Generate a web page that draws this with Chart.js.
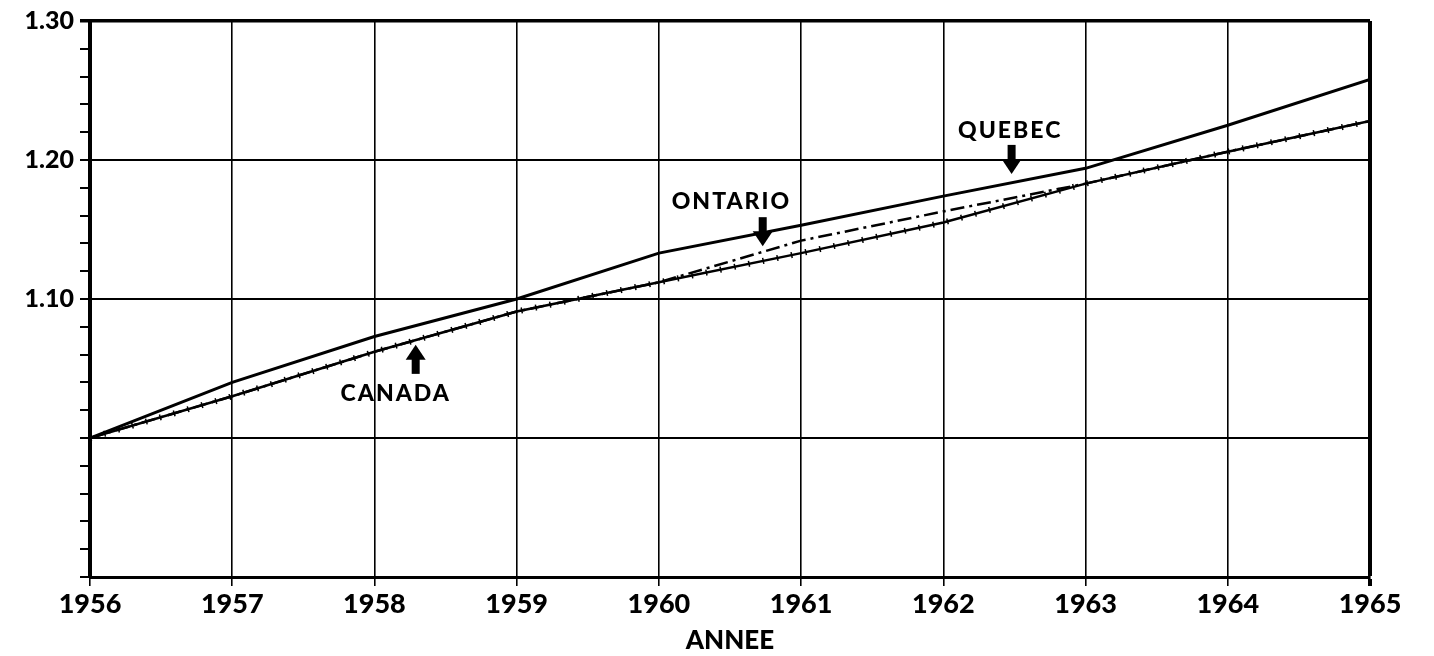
<!DOCTYPE html>
<html>
<head>
<meta charset="utf-8">
<script src="https://cdn.jsdelivr.net/npm/chart.js@4"></script>
<style>
  body { margin: 0; background: #ffffff; }
  canvas { display: block; }
</style>
</head>
<body>
<canvas id="chart" width="1434" height="656"></canvas>
<script>
// values (index, 1956 = 1.00)
var years = [1956, 1957, 1958, 1959, 1960, 1961, 1962, 1963, 1964, 1965];
var quebec = [1.000, 1.040, 1.073, 1.100, 1.133, 1.153, 1.174, 1.194, 1.225, 1.258];
var ontario = [1.000, 1.030, 1.062, 1.091, 1.112, 1.142, 1.163, 1.183, 1.206, 1.228];
var canada = [1.000, 1.030, 1.062, 1.091, 1.112, 1.133, 1.155, 1.183, 1.206, 1.228];

// callouts: text, where the text sits and where the arrow points (data units)
var callouts = [
    { text: 'QUEBEC', x: 1962.47, y: 1.221, tipX: 1962.48, tipY: 1.190, dir: 'down' },
    { text: 'ONTARIO', x: 1960.51, y: 1.170, tipX: 1960.73, tipY: 1.138, dir: 'down' },
    { text: 'CANADA', x: 1958.15, y: 1.032, tipX: 1958.29, tipY: 1.067, dir: 'up' }
];

var FONT = 'Lato, "DejaVu Sans", sans-serif';

function points(values) {
    return values.map(function (v, i) { return { x: years[i], y: v }; });
}

var calloutPlugin = {
    id: 'callouts',
    afterDatasetsDraw: function (chart) {
        var ctx = chart.ctx;
        var xs = chart.scales.x, ys = chart.scales.y;
        ctx.save();
        ctx.fillStyle = '#000';
        ctx.font = '900 23px ' + FONT;
        ctx.textAlign = 'center';
        ctx.textBaseline = 'middle';
        if ('letterSpacing' in ctx) ctx.letterSpacing = '2px';
        callouts.forEach(function (c) {
            ctx.fillText(c.text, xs.getPixelForValue(c.x), ys.getPixelForValue(c.y));
            var tx = xs.getPixelForValue(c.tipX), ty = ys.getPixelForValue(c.tipY);
            var s = c.dir === 'down' ? -1 : 1;
            // arrow head
            ctx.beginPath();
            ctx.moveTo(tx, ty);
            ctx.lineTo(tx - 10, ty + s * 15);
            ctx.lineTo(tx + 10, ty + s * 15);
            ctx.closePath();
            ctx.fill();
            // shaft
            ctx.fillRect(tx - 4, s > 0 ? ty + 14 : ty - 29, 8, 15);
        });
        ctx.restore();
    }
};

var chart = new Chart(document.getElementById('chart'), {
    type: 'line',
    data: {
        datasets: [{
            label: 'Ontario',
            data: points(ontario),
            borderColor: '#000',
            borderWidth: 2.5,
            borderDash: [14, 5, 3, 5],
            pointRadius: 0,
            tension: 0
        }, {
            label: 'Canada',
            data: points(canada),
            borderColor: '#000',
            borderWidth: 2.5,
            pointRadius: 0,
            tension: 0
        }, {
            // same Canada values again, drawn as short wide dashes = the cross ticks
            label: 'Canada ticks',
            data: points(canada),
            borderColor: '#000',
            borderWidth: 6,
            borderDash: [1.5, 13],
            borderCapStyle: 'butt',
            pointRadius: 0,
            tension: 0
        }, {
            label: 'Quebec',
            data: points(quebec),
            borderColor: '#000',
            borderWidth: 3,
            pointRadius: 0,
            tension: 0
        }]
    },
    options: {
        responsive: false,
        animation: false,
        layout: {
            padding: { top: 20, right: 64, left: 0, bottom: 0 }
        },
        plugins: {
            legend: { display: false },
            tooltip: { enabled: false }
        },
        scales: {
            x: {
                type: 'linear',
                min: 1956,
                max: 1965,
                afterFit: function (scale) { scale.height = 79; },
                ticks: {
                    stepSize: 1,
                    color: '#000',
                    padding: 2,
                    maxRotation: 0,
                    font: { family: FONT, size: 27, weight: '900' },
                    callback: function (v) { return String(v); }
                },
                grid: {
                    color: '#000',
                    tickColor: '#000',
                    tickLength: 9,
                    lineWidth: function (c) { return c.tick && c.tick.value === 1965 ? 4 : 1.6; }
                },
                border: { color: '#000', width: 3 },
                title: {
                    display: true,
                    text: 'ANNEE',
                    color: '#000',
                    padding: { top: 0, bottom: 0 },
                    font: { family: FONT, size: 26, weight: '900' }
                }
            },
            y: {
                min: 0.9,
                max: 1.3,
                afterFit: function (scale) { scale.width = 90; },
                ticks: {
                    stepSize: 0.02,
                    color: '#000',
                    padding: 6,
                    autoSkip: false,
                    font: { family: FONT, size: 25, weight: '900' },
                    callback: function (v) {
                        var n = Math.round(v * 100);
                        return (n % 10 === 0 && n >= 110) ? (n / 100).toFixed(2) : '';
                    }
                },
                grid: {
                    tickColor: '#000',
                    tickLength: 10,
                    color: function (c) {
                        var n = Math.round(c.tick.value * 100);
                        return n % 10 === 0 ? '#000' : 'rgba(0,0,0,0)';
                    },
                    lineWidth: function (c) {
                        return Math.round(c.tick.value * 100) === 130 ? 3.5 : 2;
                    }
                },
                border: { color: '#000', width: 4 }
            }
        }
    },
    plugins: [calloutPlugin]
});
</script>
</body>
</html>
